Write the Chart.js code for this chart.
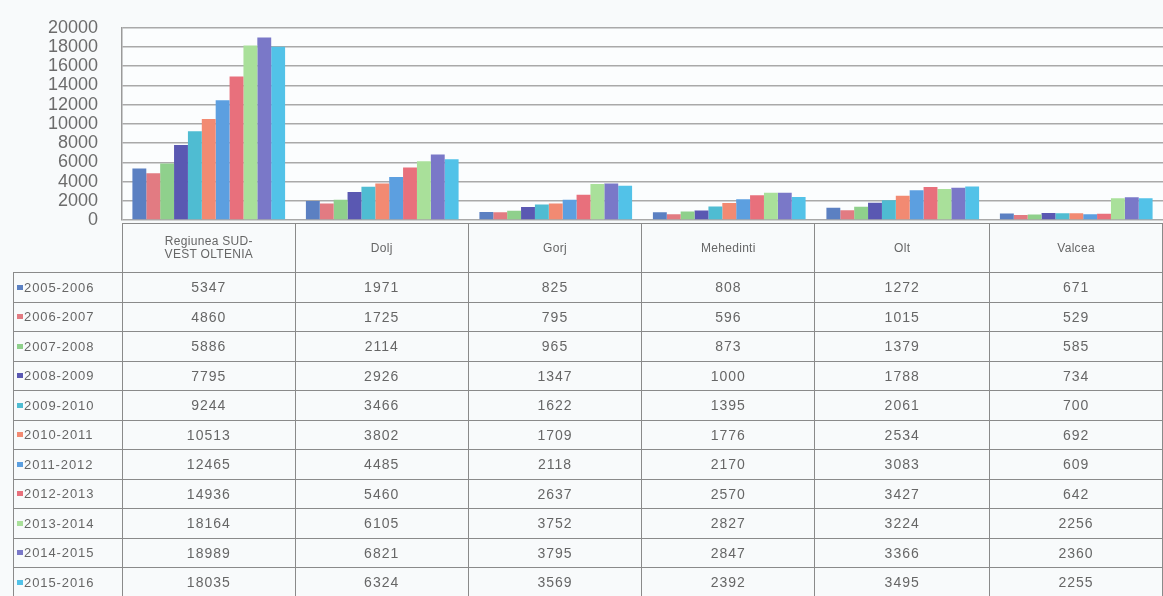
<!DOCTYPE html>
<html>
<head>
<meta charset="utf-8">
<script src="https://cdn.jsdelivr.net/npm/chart.js@4.4.0/dist/chart.umd.min.js"></script>
<style>
    html, body { margin: 0; padding: 0; background: #f8fafb; }
    #wrap { position: relative; width: 1163px; height: 596px; overflow: hidden; font-family: "Liberation Sans", Arial, sans-serif; }
    #chart { position: absolute; left: 0; top: -7px; }
    #data-table { position: absolute; left: 13px; top: 223px; border-collapse: collapse; table-layout: fixed; color: #666; }
    #data-table td { border: 1px solid #8a8a8a; text-align: center; font-size: 14px; letter-spacing: 1px; padding: 0; height: 28.5px; }
    #data-table tr.head td { height: 48px; font-size: 12px; line-height: 13px; letter-spacing: 0.3px; }
    #data-table td.blank { border: none; border-right: 1px solid #8a8a8a; }
    #data-table td.season { text-align: left; padding-left: 3px; font-size: 13px; letter-spacing: 0.9px; }
    .mark { display: inline-block; width: 6px; height: 5px; margin-right: 1px; vertical-align: 2px; }
</style>
</head>
<body>
<div id="wrap">
    <canvas id="chart" width="1163" height="603"></canvas>
    <table id="data-table"></table>
</div>
<script>
// Categories (judete) and the school years shown as series
const regions = ['Regiunea SUD-VEST OLTENIA', 'Dolj', 'Gorj', 'Mehedinti', 'Olt', 'Valcea'];
const regionHeaders = ['Regiunea SUD-<br>VEST OLTENIA', 'Dolj', 'Gorj', 'Mehedinti', 'Olt', 'Valcea'];
const seasons = ['2005-2006', '2006-2007', '2007-2008', '2008-2009', '2009-2010', '2010-2011',
                 '2011-2012', '2012-2013', '2013-2014', '2014-2015', '2015-2016'];

// Values per school year, in region order
const y2005_2006 = [5347, 1971, 825, 808, 1272, 671];
const y2006_2007 = [4860, 1725, 795, 596, 1015, 529];
const y2007_2008 = [5886, 2114, 965, 873, 1379, 585];
const y2008_2009 = [7795, 2926, 1347, 1000, 1788, 734];
const y2009_2010 = [9244, 3466, 1622, 1395, 2061, 700];
const y2010_2011 = [10513, 3802, 1709, 1776, 2534, 692];
const y2011_2012 = [12465, 4485, 2118, 2170, 3083, 609];
const y2012_2013 = [14936, 5460, 2637, 2570, 3427, 642];
const y2013_2014 = [18164, 6105, 3752, 2827, 3224, 2256];
const y2014_2015 = [18989, 6821, 3795, 2847, 3366, 2360];
const y2015_2016 = [18035, 6324, 3569, 2392, 3495, 2255];

const seriesValues = [y2005_2006, y2006_2007, y2007_2008, y2008_2009, y2009_2010, y2010_2011,
                      y2011_2012, y2012_2013, y2013_2014, y2014_2015, y2015_2016];

const seriesColors = ['#5b80c2', '#e27b82', '#8fd08c', '#5a58b2', '#4fbcd2', '#f28a72',
                      '#5c9fe0', '#e8707c', '#a9e09a', '#7a78c8', '#52c2e8'];

const yTicks = [0, 2000, 4000, 6000, 8000, 10000, 12000, 14000, 16000, 18000, 20000];

document.addEventListener('DOMContentLoaded', function() {
    renderChart();
    buildTable();
});

// Light fill behind the plot area
const plotBackground = {
    id: 'plotBackground',
    beforeDraw(chart) {
        const a = chart.chartArea;
        const ctx = chart.ctx;
        ctx.save();
        ctx.fillStyle = '#fbfdfe';
        ctx.fillRect(a.left, a.top, a.right - a.left, a.bottom - a.top);
        ctx.restore();
    }
};

function renderChart() {
    const ctx = document.getElementById('chart').getContext('2d');

    new Chart(ctx, {
        type: 'bar',
        data: {
            labels: regions,
            datasets: seasons.map((s, i) => ({
                label: s,
                data: seriesValues[i],
                backgroundColor: seriesColors[i],
                borderWidth: 0,
                barPercentage: 1.0,
                categoryPercentage: 0.88
            }))
        },
        options: {
            responsive: false,
            animation: false,
            // table sits under the plot, so keep the bottom of the canvas free
            layout: { padding: { top: 20, right: 0, bottom: 376, left: 0 } },
            plugins: {
                legend: { display: false },
                tooltip: { enabled: false }
            },
            scales: {
                x: { display: false },
                y: {
                    min: 0,
                    max: 20000,
                    afterBuildTicks: scale => { scale.ticks = yTicks.map(v => ({ value: v })); },
                    afterFit: scale => { scale.width = 122; },
                    ticks: {
                        autoSkip: false,
                        color: '#6c6c6c',
                        padding: 24,
                        font: { family: 'Liberation Sans', size: 18 },
                        callback: v => String(v)
                    },
                    grid: { color: '#a9a9a9', lineWidth: 1.5, drawTicks: false },
                    border: { display: true, color: '#9a9a9a', width: 1.5 }
                }
            }
        },
        plugins: [plotBackground]
    });
}

function buildTable() {
    const table = document.getElementById('data-table');
    const colWidths = [109, 173, 173, 174, 173, 175, 173];

    const cg = document.createElement('colgroup');
    colWidths.forEach(w => {
        const c = document.createElement('col');
        c.style.width = w + 'px';
        cg.appendChild(c);
    });
    table.appendChild(cg);

    // Header row with region names
    const head = document.createElement('tr');
    head.className = 'head';
    const blank = document.createElement('td');
    blank.className = 'blank';
    head.appendChild(blank);
    regionHeaders.forEach(r => {
        const td = document.createElement('td');
        td.innerHTML = r;
        head.appendChild(td);
    });
    table.appendChild(head);

    // One row per school year
    seasons.forEach((s, i) => {
        const tr = document.createElement('tr');
        const name = document.createElement('td');
        name.className = 'season';
        name.innerHTML = '<span class="mark" style="background:' + seriesColors[i] + '"></span>' + s;
        tr.appendChild(name);
        seriesValues[i].forEach(v => {
            const td = document.createElement('td');
            td.textContent = v;
            tr.appendChild(td);
        });
        table.appendChild(tr);
    });
}
</script>
</body>
</html>
